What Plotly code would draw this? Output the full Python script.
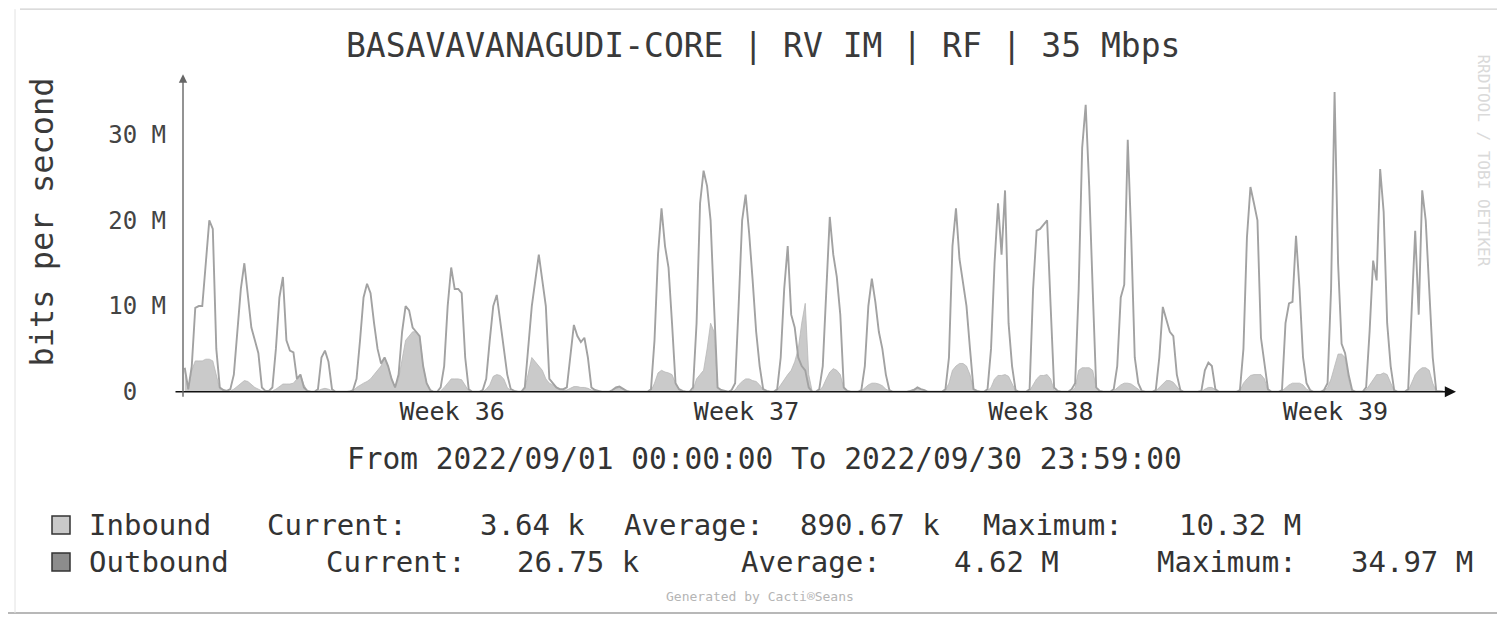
import pandas as pd
import plotly.graph_objects as go

# ---------------- data (values in Mbit/s, one row per day, 2-hour bins) ----------------
outbound_m = [
    [2.8, 0.3, 3, 9.8, 10, 10, 15, 20, 19, 5, 0.5, 0.2],
    [0.1, 0.3, 2, 7, 12, 15, 11, 7.5, 6, 4.5, 0.5, 0.1],
    [0.1, 0.5, 5, 11, 13.4, 6, 4.8, 4.6, 1.5, 2, 0.5, 0.1],
    [0, 0, 0.3, 4, 4.8, 3.5, 0.3, 0, 0, 0, 0, 0],
    [0.2, 1.5, 6, 11, 12.6, 11.5, 8, 5, 3.3, 4, 3, 1.5],
    [0.5, 2, 7, 10, 9.5, 7.5, 7, 6.5, 3, 1, 0.2, 0],
    [0, 0.5, 3, 10, 14.5, 12, 12, 11.5, 4, 0.3, 0, 0],
    [0, 0.2, 1.5, 6, 10, 11.3, 8, 5, 2, 0.3, 0.1, 0],
    [0, 0.5, 5, 10, 13, 16, 13, 10, 1.5, 1, 0.5, 0.3],
    [0.3, 0.5, 4, 7.8, 6.5, 5.8, 6.3, 4, 0.5, 0.2, 0.1, 0],
    [0, 0, 0.2, 0.5, 0.6, 0.3, 0.1, 0, 0, 0, 0, 0],
    [0, 0.3, 6, 16, 21.4, 17, 14.5, 8, 1, 0.3, 0.1, 0],
    [0, 0.5, 8, 22, 25.8, 24, 20, 10, 0.5, 0.2, 0.1, 0],
    [0.2, 1, 10, 20, 23, 18.5, 13, 7, 3, 0.3, 0.1, 0],
    [0, 0.3, 4, 12, 17, 9, 7.5, 4, 3, 2.5, 0.5, 0],
    [0, 0.3, 3, 12, 20.4, 16, 13.4, 9, 0.5, 0.1, 0, 0],
    [0, 0.2, 3, 10, 13.2, 10.5, 7, 5, 2, 0.2, 0, 0],
    [0, 0, 0, 0.1, 0.2, 0.5, 0.3, 0.2, 0, 0, 0, 0],
    [0, 0.3, 4, 17, 21.4, 15.5, 13, 10, 5, 0.3, 0.1, 0],
    [0, 0.3, 5, 15, 22, 16, 23.5, 8, 3, 0.2, 0, 0],
    [0, 0.3, 12, 18.8, 19, 19.5, 20, 10, 0.5, 0.1, 0, 0],
    [0, 0.3, 1, 12, 28.5, 33.5, 24, 12, 0.5, 0.1, 0, 0],
    [0, 0.3, 3, 11, 12.5, 29.4, 18, 4, 1, 0.1, 0, 0],
    [0, 0.2, 4, 9.9, 8.5, 7, 6.5, 2, 0.2, 0, 0, 0],
    [0, 0, 0.1, 2.5, 3.4, 3, 0.3, 0, 0, 0, 0, 0],
    [0, 0.2, 5, 18, 23.9, 22, 20, 6.3, 3, 0.3, 0, 0],
    [0, 0.2, 8, 10.3, 10.5, 18.2, 12, 4, 1, 0.2, 0, 0],
    [0, 0.2, 1, 12, 34.97, 15, 5.6, 4.5, 2, 0.2, 0, 0],
    [0, 0.5, 7.1, 15.3, 13, 26, 21, 8, 3, 0.2, 0, 0],
    [0, 0.3, 10, 18.8, 9, 23.5, 20, 12.2, 4, 0.1, 0.03, 0.02675],
]

inbound_m = [
    [2.5, 0.2, 2.5, 3.6, 3.6, 3.6, 3.8, 3.8, 3.6, 2.0, 0.3, 0.1],
    [0.1, 0.1, 0.3, 0.6, 1.0, 1.3, 1.2, 0.8, 0.5, 0.3, 0.1, 0.1],
    [0.1, 0.1, 0.3, 0.6, 0.9, 0.9, 0.9, 1.0, 1.5, 2.0, 0.8, 0.1],
    [0, 0, 0.1, 0.3, 0.4, 0.3, 0.1, 0, 0, 0, 0, 0.1],
    [0.1, 0.5, 0.8, 1.0, 1.2, 1.5, 2.0, 2.5, 3.0, 4.0, 3.0, 1.5],
    [0.5, 1.5, 4, 6, 6.5, 7, 7, 6.5, 3, 1, 0.2, 0],
    [0, 0.1, 0.5, 1.0, 1.5, 1.5, 1.5, 1.4, 0.8, 0.1, 0, 0],
    [0, 0, 0.3, 0.8, 1.8, 2, 1.9, 1.5, 0.5, 0.1, 0, 0],
    [0, 0.3, 2, 4, 3.5, 3, 2.5, 1.5, 1, 0.8, 0.5, 0.3],
    [0.2, 0.2, 0.4, 0.6, 0.6, 0.5, 0.5, 0.4, 0.2, 0.1, 0, 0],
    [0, 0, 0.2, 0.4, 0.5, 0.3, 0.1, 0, 0, 0, 0, 0],
    [0, 0.1, 1, 2.2, 2.5, 2.3, 2.2, 2, 1, 0.3, 0, 0],
    [0, 0.2, 1.5, 2, 2.5, 5, 8, 7, 0.5, 0.1, 0, 0],
    [0, 0.2, 0.8, 1.2, 1.5, 1.5, 1.3, 1.2, 0.8, 0.2, 0, 0],
    [0, 0.2, 0.8, 1.5, 2, 2.5, 3.5, 5, 8, 10.32, 2, 0],
    [0, 0.1, 0.6, 1.5, 2.3, 2.7, 2.5, 2, 0.4, 0.1, 0, 0],
    [0, 0.1, 0.5, 0.8, 1, 1, 0.9, 0.7, 0.3, 0.1, 0, 0],
    [0, 0, 0, 0.1, 0.3, 0.4, 0.3, 0.1, 0, 0, 0, 0],
    [0, 0.2, 1, 2.5, 3, 3.3, 3.3, 3, 2, 0.2, 0, 0],
    [0, 0.1, 0.5, 1.5, 1.9, 1.9, 2, 1.8, 1, 0.1, 0, 0],
    [0, 0.1, 0.8, 1.5, 1.9, 1.9, 2, 1.5, 0.2, 0, 0, 0],
    [0, 0.1, 0.5, 2.5, 2.8, 2.8, 2.8, 2.5, 0.5, 0, 0, 0],
    [0, 0.1, 0.5, 0.8, 1, 1, 0.9, 0.6, 0.3, 0, 0, 0],
    [0, 0.1, 0.5, 1, 1.3, 1.3, 1.1, 0.6, 0.1, 0, 0, 0],
    [0, 0, 0, 0.3, 0.5, 0.5, 0.2, 0, 0, 0, 0, 0],
    [0, 0.1, 1, 1.5, 1.9, 2, 2, 2, 1.5, 0.1, 0, 0],
    [0, 0.1, 0.5, 0.8, 1, 1, 1, 0.8, 0.3, 0.1, 0, 0],
    [0, 0.1, 0.5, 1.5, 3, 4.4, 4.4, 4, 1.5, 0.1, 0, 0],
    [0, 0.2, 0.8, 1.5, 2, 2, 2.2, 2, 1, 0.1, 0, 0],
    [0, 0.1, 1, 2, 2.5, 2.8, 2.8, 2.5, 1, 0.1, 0.004, 0.00364],
]

y_tick_vals = [0, 10, 20, 30]
y_tick_text = ["0\u00a0\u00a0", "10 M", "20 M", "30 M"]
week_tick_vals = ["2022-09-07 09:30", "2022-09-14 09:30", "2022-09-21 09:30", "2022-09-28 09:30"]
week_tick_text = ["Week 36", "Week 37", "Week 38", "Week 39"]

title_text = "BASAVAVANAGUDI-CORE | RV IM | RF | 35 Mbps"
range_text = "From 2022/09/01 00:00:00 To 2022/09/30 23:59:00"
legend_rows = [
    ["Inbound", "Current:", "3.64 k", "Average:", "890.67 k", "Maximum:", "10.32 M"],
    ["Outbound", "Current:", "26.75 k", "Average:", "4.62 M", "Maximum:", "34.97 M"],
]

# ---------------- build ----------------
out_flat = [v for day in outbound_m for v in day]
in_flat = [v for day in inbound_m for v in day]
times = pd.date_range("2022-09-01 01:00", periods=len(out_flat), freq="2h")

# page body has an 8px margin and the captured page is slightly squeezed vertically
OFF = 8
KY = 0.976
W, H = 1505 - 2 * OFF, 620
MONO = "DejaVu Sans Mono"


def px(x):
    return (x - OFF) / W


def py(y):
    return 1 - (y / KY - OFF) / H


fig = go.Figure()
fig.add_trace(go.Scatter(
    x=times, y=in_flat, mode="lines", name="Inbound",
    fill="tozeroy", fillcolor="#cacaca",
    line=dict(color="#b8b8b8", width=0.8),
))
fig.add_trace(go.Scatter(
    x=times, y=out_flat, mode="lines", name="Outbound",
    line=dict(color="#a2a2a2", width=1.9),
))

annotations = []
annotations.append(dict(x=px(763), y=py(45), xref="paper", yref="paper", text=title_text,
                        showarrow=False, font=dict(family=MONO, size=33, color="#3a3a3a"),
                        xanchor="center", yanchor="middle"))
annotations.append(dict(x=px(42), y=py(222), xref="paper", yref="paper", text="bits per second",
                        showarrow=False, textangle=-90, font=dict(family=MONO, size=32, color="#3a3a3a"),
                        xanchor="center", yanchor="middle"))
annotations.append(dict(x=px(764), y=py(458), xref="paper", yref="paper", text=range_text,
                        showarrow=False, font=dict(family=MONO, size=29.5, color="#333333"),
                        xanchor="center", yanchor="middle"))
row_x = [
    [87, 265, 478, 622, 798, 981, 1177],
    [87, 324, 515, 739, 952, 1155, 1349],
]
row_y = [524, 561]
for r, items in enumerate(legend_rows):
    for txt, xx in zip(items, row_x[r]):
        annotations.append(dict(x=px(xx), y=py(row_y[r]), xref="paper", yref="paper", text=txt,
                                showarrow=False, font=dict(family=MONO, size=29, color="#333333"),
                                xanchor="left", yanchor="middle"))
annotations.append(dict(x=px(760), y=py(595), xref="paper", yref="paper", text="Generated by Cacti\u00aeSeans",
                        showarrow=False, font=dict(family=MONO, size=13, color="#b5b5b5"),
                        xanchor="center", yanchor="middle"))
annotations.append(dict(x=px(1484), y=py(160), xref="paper", yref="paper",
                        text="RRDTOOL / TOBI OETIKER", showarrow=False, textangle=90,
                        font=dict(family=MONO, size=16, color="#dadada"),
                        xanchor="center", yanchor="middle"))
# axis arrows
annotations.append(dict(x=px(1456), y=py(391), xref="paper", yref="paper", text="",
                        showarrow=True, axref="pixel", ayref="pixel", ax=-1282, ay=0,
                        arrowhead=2, arrowsize=1.4, arrowwidth=1.6, arrowcolor="#111111"))
annotations.append(dict(x=px(183), y=py(74), xref="paper", yref="paper", text="",
                        showarrow=True, axref="pixel", ayref="pixel", ax=0, ay=int(317 / KY),
                        arrowhead=2, arrowsize=1.2, arrowwidth=1.4, arrowcolor="#666666"))

shapes = [
    dict(type="rect", xref="paper", yref="paper", x0=px(52), x1=px(70), y0=py(533), y1=py(515),
         fillcolor="#c9c9c9", line=dict(color="#333333", width=1.5)),
    dict(type="rect", xref="paper", yref="paper", x0=px(52), x1=px(70), y0=py(570), y1=py(552),
         fillcolor="#8c8c8c", line=dict(color="#333333", width=1.5)),
    dict(type="line", xref="paper", yref="paper", x0=px(20), x1=px(1500), y0=py(9), y1=py(9),
         line=dict(color="#cfcfcf", width=1.2)),
    dict(type="line", xref="paper", yref="paper", x0=px(8), x1=px(1497), y0=py(612), y1=py(612),
         line=dict(color="#a0a0a0", width=1.5)),
    dict(type="line", xref="paper", yref="paper", x0=px(15), x1=px(15), y0=py(9), y1=py(612),
         line=dict(color="#e2e2e2", width=1)),
]

fig.update_layout(
    width=W, height=H,
    margin=dict(l=0, r=0, t=0, b=0),
    paper_bgcolor="white", plot_bgcolor="white",
    showlegend=False,
    annotations=annotations,
    shapes=shapes,
    xaxis=dict(
        domain=[px(183), px(1445)],
        range=["2022-09-01 00:00", "2022-10-01 00:00"],
        showgrid=False, zeroline=False, showline=False,
        tickmode="array", tickvals=week_tick_vals, ticktext=week_tick_text,
        ticks="", ticklabelstandoff=2,
        tickfont=dict(family=MONO, size=25, color="#333333"),
    ),
    yaxis=dict(
        domain=[py(391), py(83)],
        range=[0, 36],
        showgrid=False, zeroline=False, showline=False,
        tickmode="array", tickvals=y_tick_vals, ticktext=y_tick_text,
        ticks="", ticklabelstandoff=16,
        tickfont=dict(family=MONO, size=24, color="#444444"),
    ),
)

fig.write_html("out.html")
